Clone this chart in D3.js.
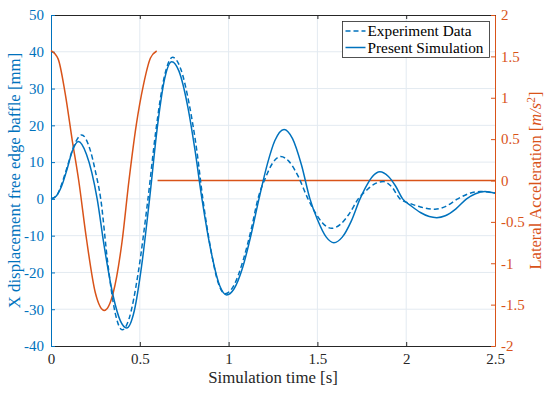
<!DOCTYPE html>
<html>
<head>
<meta charset="utf-8">
<script src="https://cdn.jsdelivr.net/npm/d3@7"></script>
<style>
    body { margin: 0; background: #fff; }
</style>
</head>
<body>
<div id="chart-container"></div>
<script>
// Present simulation (solid blue), left axis [mm]
const simTime = [0, 0.03, 0.06, 0.09, 0.12, 0.154, 0.2, 0.26, 0.3, 0.35, 0.39, 0.426, 0.47, 0.51, 0.555,
    0.6, 0.64, 0.68, 0.72, 0.77, 0.81, 0.85, 0.9, 0.95, 0.989, 1.03, 1.08, 1.13, 1.171, 1.22, 1.26, 1.312,
    1.36, 1.41, 1.458, 1.5, 1.55, 1.593, 1.64, 1.69, 1.74, 1.78, 1.81, 1.852, 1.9, 1.94, 1.98, 2.03, 2.08,
    2.13, 2.172, 2.22, 2.28, 2.34, 2.39, 2.444, 2.5];
const simValues = [0, 0.8, 3.5, 8.0, 13.0, 15.6, 12.1, 0, -13.0, -26.4, -33.1, -35.1, -30.2, -18.3, 0,
    20.0, 32.7, 37.3, 34.8, 25.1, 13.5, 0, -14.0, -23.6, -26.1, -24.5, -18.5, -9.0, 0, 9.8, 15.8, 18.9,
    16.4, 9.3, 0, -5.6, -10.4, -11.9, -10.4, -6.1, 0, 3.9, 6.1, 7.4, 6.1, 3.5, 0, -2.0, -3.7,
    -4.8, -5.1, -4.6, -2.7, 0, 1.4, 2.0, 1.55];

// Experiment data (dashed blue), left axis [mm]
const expTime = [0, 0.03, 0.06, 0.09, 0.13, 0.173, 0.22, 0.25, 0.28, 0.32, 0.36, 0.401, 0.44, 0.49, 0.546,
    0.59, 0.64, 0.685, 0.73, 0.78, 0.82, 0.855, 0.9, 0.94, 0.98, 1.03, 1.08, 1.13, 1.165, 1.21, 1.25, 1.293,
    1.34, 1.39, 1.447, 1.49, 1.53, 1.58, 1.63, 1.68, 1.73, 1.78, 1.82, 1.871, 1.92, 1.965, 2.02, 2.08,
    2.162, 2.22, 2.29, 2.35, 2.416, 2.5];
const expValues = [0, 0.8, 4.0, 8.5, 14.5, 17.4, 13.4, 7.5, 0, -17.6, -30.7, -35.6, -32.5, -20.4, 0,
    18.4, 33.6, 38.5, 35.4, 25.3, 13.5, 0, -13.8, -22.6, -25.8, -23.5, -17.0, -7.7, 0, 6.0, 9.9, 11.5,
    10.2, 6.3, 0, -3.9, -6.6, -8.0, -6.9, -4.0, 0, 2.5, 4.0, 4.7, 3.2, 0, -1.2, -2.2,
    -2.8, -2.1, 0, 1.4, 2.0, 1.6];

// Lateral acceleration (orange), right axis [m/s^2]
const accTime = [0, 0.04, 0.08, 0.12, 0.156, 0.2, 0.25, 0.3, 0.35, 0.4, 0.439, 0.48, 0.52, 0.56, 0.595];
const accValues = [1.57, 1.47, 1.05, 0.48, 0, -0.71, -1.36, -1.57, -1.36, -0.74, 0, 0.67, 1.15, 1.48, 1.565];
const accRestTime = [0.6, 2.5];
const accRestValues = [0, 0];

// Tick labels
const xTicks = [0, 0.5, 1, 1.5, 2, 2.5];
const yLeftTicks = [-40, -30, -20, -10, 0, 10, 20, 30, 40, 50];
const yRightTicks = [-2, -1.5, -1, -0.5, 0, 0.5, 1, 1.5, 2];

const blue = "#0072BD";
const orange = "#D95319";
const dark = "#262626";
const fontFace = "'Liberation Serif'";

const width = 550, height = 394;
const margin = { top: 15, right: 55, bottom: 48, left: 51 };
const innerW = width - margin.left - margin.right;
const innerH = height - margin.top - margin.bottom;

const svg = d3.select("#chart-container")
    .append("svg")
    .attr("width", width)
    .attr("height", height);

const g = svg.append("g")
    .attr("transform", "translate(" + margin.left + "," + margin.top + ")");

// Scales
const x = d3.scaleLinear().domain([0, 2.5]).range([0, innerW]);
const yL = d3.scaleLinear().domain([-40, 50]).range([innerH, 0]);
const yR = d3.scaleLinear().domain([-2, 2]).range([innerH, 0]);

const fmt = (d) => String(d);

// Grid
g.append("g")
    .selectAll("line")
    .data(xTicks.slice(1, -1))
    .enter().append("line")
    .attr("x1", (d) => x(d)).attr("x2", (d) => x(d))
    .attr("y1", 0).attr("y2", innerH)
    .attr("stroke", "#e3eaf1").attr("stroke-width", 1);

g.append("g")
    .selectAll("line")
    .data(yLeftTicks.slice(1, -1))
    .enter().append("line")
    .attr("x1", 0).attr("x2", innerW)
    .attr("y1", (d) => yL(d)).attr("y2", (d) => yL(d))
    .attr("stroke", "#e3eaf1").attr("stroke-width", 1);

// Axes
const styleAxis = (sel, color) => {
    sel.attr("font-family", null);
    sel.select(".domain").attr("stroke", color);
    sel.selectAll(".tick line").attr("stroke", color);
    sel.selectAll(".tick text").attr("fill", color)
        .style("font-size", "15px")
        .style("font-family", fontFace);
};

g.append("g")
    .attr("transform", "translate(0," + innerH + ")")
    .call(d3.axisBottom(x).tickValues(xTicks).tickSizeInner(-4).tickSizeOuter(0).tickPadding(7).tickFormat(fmt))
    .call((s) => styleAxis(s, dark));

g.append("g")
    .call(d3.axisTop(x).tickValues(xTicks).tickSizeInner(-4).tickSizeOuter(0).tickFormat(""))
    .call((s) => styleAxis(s, dark));

g.append("g")
    .call(d3.axisLeft(yL).tickValues(yLeftTicks).tickSizeInner(-4).tickSizeOuter(0).tickPadding(7).tickFormat(fmt))
    .call((s) => styleAxis(s, blue));

g.append("g")
    .attr("transform", "translate(" + innerW + ",0)")
    .call(d3.axisRight(yR).tickValues(yRightTicks).tickSizeInner(-4).tickSizeOuter(0).tickPadding(6).tickFormat(fmt))
    .call((s) => styleAxis(s, orange));

// Lines
const lineL = d3.line()
    .x((d) => x(d[0]))
    .y((d) => yL(d[1]))
    .curve(d3.curveMonotoneX);

const lineR = d3.line()
    .x((d) => x(d[0]))
    .y((d) => yR(d[1]))
    .curve(d3.curveMonotoneX);

g.append("path")
    .datum(d3.zip(accTime, accValues))
    .attr("fill", "none")
    .attr("stroke", orange)
    .attr("stroke-width", 1.5)
    .attr("d", lineR);

g.append("path")
    .datum(d3.zip(accRestTime, accRestValues))
    .attr("fill", "none")
    .attr("stroke", orange)
    .attr("stroke-width", 1.5)
    .attr("d", lineR);

g.append("path")
    .datum(d3.zip(expTime, expValues))
    .attr("fill", "none")
    .attr("stroke", blue)
    .attr("stroke-width", 1.5)
    .attr("stroke-dasharray", "5,3")
    .attr("d", lineL);

g.append("path")
    .datum(d3.zip(simTime, simValues))
    .attr("fill", "none")
    .attr("stroke", blue)
    .attr("stroke-width", 1.5)
    .attr("d", lineL);

// Axis labels
svg.append("text")
    .attr("x", margin.left + innerW / 2)
    .attr("y", 383)
    .attr("text-anchor", "middle")
    .attr("fill", dark)
    .style("font-family", fontFace)
    .style("font-size", "16.8px")
    .text("Simulation time [s]");

svg.append("text")
    .attr("transform", "translate(20," + (margin.top + innerH / 2) + ") rotate(-90)")
    .attr("text-anchor", "middle")
    .attr("fill", blue)
    .style("font-family", fontFace)
    .style("font-size", "16.8px")
    .text("X displacement free edge baffle [mm]");

const rl = svg.append("text")
    .attr("transform", "translate(541," + (margin.top + innerH / 2) + ") rotate(-90)")
    .attr("text-anchor", "middle")
    .attr("fill", orange)
    .style("font-family", fontFace)
    .style("font-size", "16.5px");
rl.append("tspan").text("Lateral Acceleration [");
rl.append("tspan").style("font-style", "italic").text("m/s");
rl.append("tspan").attr("dy", -6).style("font-size", "11.5px").text("2");
rl.append("tspan").attr("dy", 6).text("]");

// Legend
const legend = g.append("g").attr("transform", "translate(" + (342.5 - margin.left) + "," + (21.5 - margin.top) + ")");
legend.append("rect")
    .attr("width", 147).attr("height", 36)
    .attr("fill", "#fff")
    .attr("stroke", dark).attr("stroke-width", 0.8);

const items = [
    { label: "Experiment Data", dash: "5,3" },
    { label: "Present Simulation", dash: null }
];
items.forEach((item, i) => {
    const yy = 9.5 + i * 16.5;
    legend.append("line")
        .attr("x1", 3).attr("x2", 23)
        .attr("y1", yy).attr("y2", yy)
        .attr("stroke", blue).attr("stroke-width", 1.5)
        .attr("stroke-dasharray", item.dash);
    legend.append("text")
        .attr("x", 25).attr("y", yy)
        .attr("dy", "0.35em")
        .attr("fill", "#000")
        .style("font-family", fontFace)
        .style("font-size", "15.3px")
        .text(item.label);
});
</script>
</body>
</html>
